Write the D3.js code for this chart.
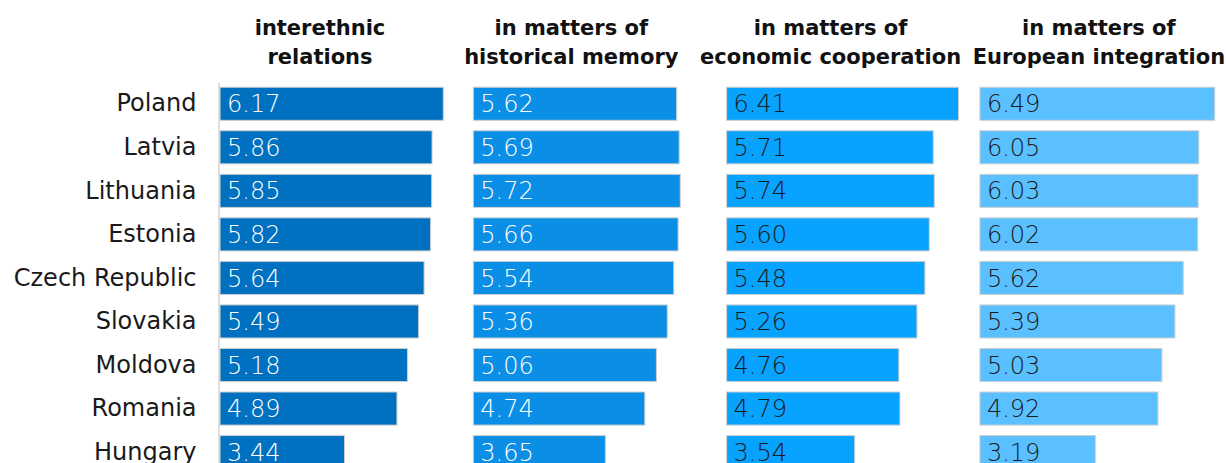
<!DOCTYPE html>
<html>
<head>
<meta charset="utf-8">
<script src="https://cdn.jsdelivr.net/npm/d3@7"></script>
<style>
  body { margin: 0; background: #fff; }
  svg { display: block; font-family: "DejaVu Sans", sans-serif; }
</style>
</head>
<body>
<svg width="1226" height="463"></svg>
<script>
const countries = ["Poland", "Latvia", "Lithuania", "Estonia", "Czech Republic", "Slovakia", "Moldova", "Romania", "Hungary"];

const interethnic = [6.17, 5.86, 5.85, 5.82, 5.64, 5.49, 5.18, 4.89, 3.44];
const historical = [5.62, 5.69, 5.72, 5.66, 5.54, 5.36, 5.06, 4.74, 3.65];
const economic = [6.41, 5.71, 5.74, 5.60, 5.48, 5.26, 4.76, 4.79, 3.54];
const european = [6.49, 6.05, 6.03, 6.02, 5.62, 5.39, 5.03, 4.92, 3.19];

const titles = [
    ["interethnic", "relations"],
    ["in matters of", "historical memory"],
    ["in matters of", "economic cooperation"],
    ["in matters of", "European integration"]
];

const svg = d3.select("svg");

const panelLeft = 220;
const panelWidth = 253.3;
const titleOffset = [100, 98, 104, 119]; // where each title sits inside its panel
const colors = ["#0070C0", "#0B8FE6", "#08A2FF", "#5BC0FF"];
const textColors = ["#ffffff", "#ffffff", "#1a1a1a", "#1a1a1a"];

const panels = [interethnic, historical, economic, european];

const x = d3.scaleLinear().domain([0, 7]).range([0, panelWidth]);
const y = d3.scaleBand()
    .domain(countries)
    .range([82, 82 + 9 * 43.54])
    .paddingInner(0.24)
    .paddingOuter(0.12);

// country axis
const yAxis = svg.append("g")
    .attr("transform", "translate(" + (panelLeft - 1.5) + ",0)")
    .call(d3.axisLeft(y).tickSize(0).tickPadding(22));

yAxis.select(".domain").attr("stroke", "#c8c8c8").attr("stroke-width", 1.2);
yAxis.selectAll("text")
    .attr("font-size", 24)
    .attr("font-family", "DejaVu Sans, sans-serif")
    .attr("fill", "#1a1a1a");

panels.forEach((values, p) => {
    const g = svg.append("g")
        .attr("transform", "translate(" + (panelLeft + p * panelWidth) + ",0)");

    const title = g.append("text")
        .attr("text-anchor", "middle")
        .attr("font-weight", "bold")
        .attr("font-size", 21)
        .attr("fill", "#111");
    titles[p].forEach((line, i) => {
        title.append("tspan")
            .attr("x", titleOffset[p])
            .attr("y", 35 + i * 28.5)
            .text(line);
    });

    g.selectAll("rect")
        .data(values)
        .enter().append("rect")
        .attr("x", x(0))
        .attr("y", (d, i) => y(countries[i]))
        .attr("width", d => x(d))
        .attr("height", y.bandwidth())
        .attr("fill", colors[p])
        .attr("stroke", "#cfcfcf")
        .attr("stroke-width", 1);

    g.selectAll("text.val")
        .data(values)
        .enter().append("text")
        .attr("class", "val")
        .attr("x", x(0) + 7)
        .attr("y", (d, i) => y(countries[i]) + y.bandwidth() / 2)
        .attr("dy", "0.36em")
        .attr("font-size", 24)
        .attr("font-weight", 200)
        .attr("fill", textColors[p])
        .text(d => d.toFixed(2));
});
</script>
</body>
</html>
